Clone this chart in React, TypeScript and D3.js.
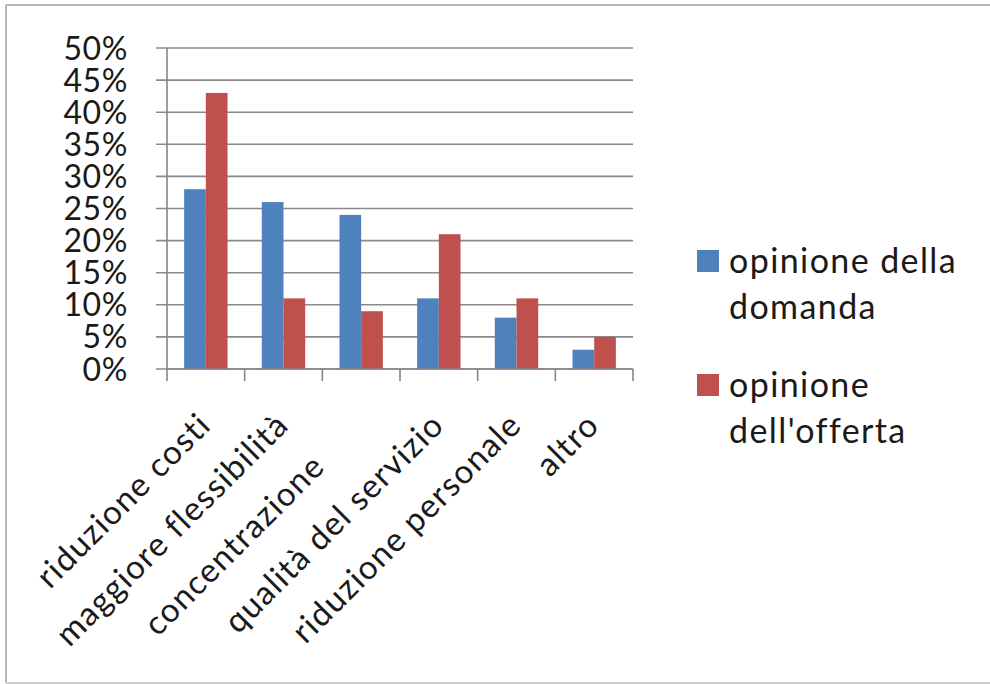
import React from "react";
import * as d3 from "d3";

// Motivazioni e quote di risposta per le due opinioni
const categories = [
  "riduzione costi",
  "maggiore flessibilità",
  "concentrazione      ",
  "qualità del servizio",
  "riduzione personale",
  "altro",
];
const seriesNames = ["opinione della domanda", "opinione dell'offerta"];
const domanda = [0.28, 0.26, 0.24, 0.11, 0.08, 0.03];
const offerta = [0.43, 0.11, 0.09, 0.21, 0.11, 0.05];
const yTicks = [0, 0.05, 0.1, 0.15, 0.2, 0.25, 0.3, 0.35, 0.4, 0.45, 0.5];
const legendLines = [["opinione della", "domanda"], ["opinione", "dell'offerta"]];

const colors = ["#4F81BD", "#C0504D"];
const FONT = "Lato, 'Open Sans', sans-serif";

export default function App() {
  const W = 990;
  const H = 684;
  const plot = { left: 167, right: 633, top: 48, bottom: 369 };

  const x0 = d3.scaleBand<string>().domain(categories).range([plot.left, plot.right]).padding(0);
  const x1 = d3
    .scaleBand<string>()
    .domain(seriesNames)
    .range([0, x0.bandwidth()])
    .paddingInner(0)
    .paddingOuter(0.79);
  const y = d3.scaleLinear().domain([0, 0.5]).range([plot.bottom, plot.top]);
  const fmt = d3.format(".0%");
  const values = [domanda, offerta];

  const boundaries = categories.map((c) => x0(c) as number).concat([plot.right]);

  return (
    <svg
      width={W}
      height={H}
      style={{ position: "absolute", left: 0, top: 0, background: "#fff" }}
      fontFamily={FONT}
    >
      {/* cornice */}
      <line x1={6} x2={W} y1={5} y2={5} stroke="#b9b9b9" strokeWidth={2} />
      <line x1={6} x2={6} y1={5} y2={683} stroke="#b9b9b9" strokeWidth={2} />
      <line x1={6} x2={W} y1={683} y2={683} stroke="#cfcfcf" strokeWidth={2} />

      {/* griglia e tacche dell'asse y */}
      {yTicks.map((t) => (
        <g key={t}>
          <line
            x1={plot.left - 11}
            x2={plot.right}
            y1={y(t)}
            y2={y(t)}
            stroke="#8a8a8a"
            strokeWidth={1.6}
          />
          <text
            x={128}
            y={y(t)}
            dy="0.36em"
            textAnchor="end"
            fontSize={32}
            letterSpacing={0.6}
            fill="#1a1a1a"
          >
            {fmt(t)}
          </text>
        </g>
      ))}

      {/* barre */}
      {categories.map((c, i) =>
        seriesNames.map((s, j) => (
          <rect
            key={c + s}
            x={(x0(c) as number) + (x1(s) as number)}
            y={y(values[j][i])}
            width={x1.bandwidth()}
            height={y(0) - y(values[j][i])}
            fill={colors[j]}
          />
        ))
      )}

      {/* assi */}
      <line x1={plot.left} x2={plot.left} y1={plot.top} y2={plot.bottom} stroke="#868686" strokeWidth={1.6} />
      <line x1={plot.left} x2={plot.right} y1={plot.bottom} y2={plot.bottom} stroke="#868686" strokeWidth={1.6} />
      {boundaries.map((b, i) => (
        <line key={i} x1={b} x2={b} y1={plot.bottom} y2={plot.bottom + 12} stroke="#868686" strokeWidth={1.6} />
      ))}

      {/* etichette delle categorie */}
      {categories.map((c) => {
        const cx = (x0(c) as number) + x0.bandwidth() / 2 + 7;
        const cy = 427;
        return (
          <text
            key={c}
            transform={`translate(${cx},${cy}) rotate(-45)`}
            textAnchor="end"
            fontSize={33}
            letterSpacing={1.3}
            fill="#1a1a1a"
            style={{ whiteSpace: "pre" }}
          >
            {c}
          </text>
        );
      })}

      {/* legenda */}
      {seriesNames.map((s, j) => {
        const top = j === 0 ? 250 : 374;
        return (
          <g key={s}>
            <rect x={697} y={top} width={22} height={22} fill={colors[j]} />
            {legendLines[j].map((ln, k) => (
              <text
                key={k}
                x={729}
                y={top + 23 + k * 46}
                fontSize={34}
                letterSpacing={1.4}
                fill="#1a1a1a"
              >
                {ln}
              </text>
            ))}
          </g>
        );
      })}
    </svg>
  );
}
